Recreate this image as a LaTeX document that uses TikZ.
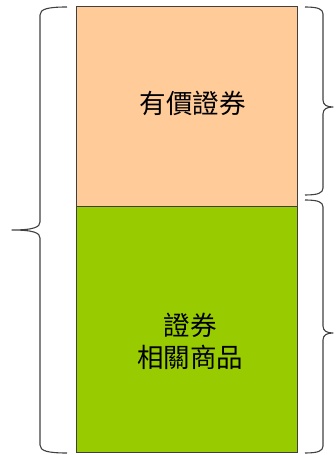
\documentclass[tikz,border=0pt]{standalone}
\usepackage{fontspec}
\newfontfamily\cjk{Noto Sans CJK TC}
\definecolor{peach}{HTML}{FFCC99}
\definecolor{leaf}{HTML}{99CC00}
\definecolor{edge}{HTML}{404040}
\begin{document}
\begin{tikzpicture}[x=1pt,y=1pt,
  box/.style={draw=edge,line width=1pt,minimum width=221pt,inner sep=0pt},
  label text/.style={font=\cjk\fontsize{26.5}{32}\selectfont,align=center,text=black},
  bracket/.style={draw=edge,line width=1.1pt,line join=round}]
\useasboundingbox (0,0) rectangle (336,455);
% boxes
\node[box,fill=peach,minimum height=200pt] (top) at (186.5,348) {};
\node[box,fill=leaf,minimum height=246pt] (bottom) at (186.5,125) {};
\node[label text] (toptext) at (192.5,352) {有價證券};
\node[label text] (bottomtext) at (190,114) {證券\\相關商品};
% left brace
\draw[bracket] (67,448) .. controls (48,448) and (40,446) .. (40,440)
  -- (40,233) .. controls (40,228) and (34,225) .. (12,225)
  .. controls (34,225) and (40,222) .. (40,217)
  -- (40,10) .. controls (40,4) and (48,2) .. (67,2);
% right brace (upper)
\draw[bracket] (305,448) .. controls (318,448) and (323,446) .. (323,441)
  -- (323,355) .. controls (323,350) and (327,348) .. (333,348)
  .. controls (327,348) and (323,346) .. (323,341)
  -- (323,267) .. controls (323,262) and (318,260) .. (305,260);
% right brace (lower)
\draw[bracket] (305,255) .. controls (318,255) and (323,253) .. (323,248)
  -- (323,129) .. controls (323,124) and (327,122) .. (333,122)
  .. controls (327,122) and (323,120) .. (323,115)
  -- (323,9) .. controls (323,4) and (318,2) .. (305,2);
\end{tikzpicture}
\end{document}
